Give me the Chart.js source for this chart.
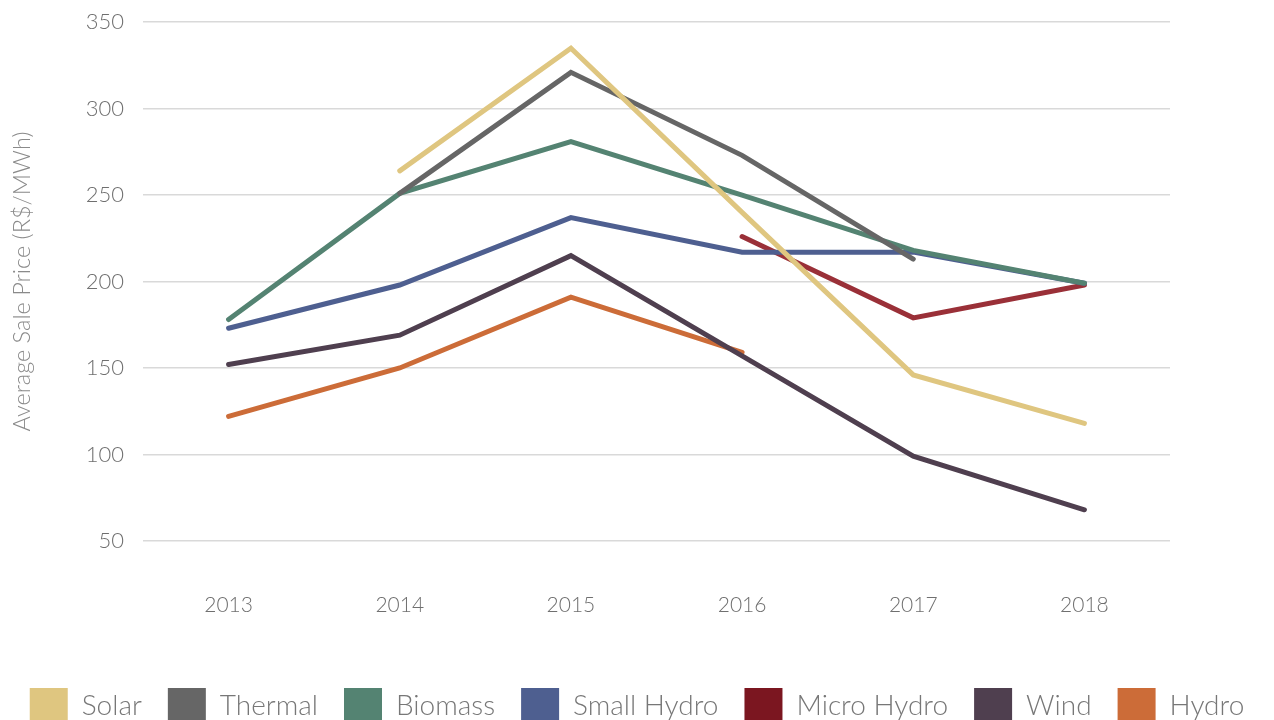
<!DOCTYPE html>
<html>
<head>
<meta charset="utf-8">
<script src="https://cdn.jsdelivr.net/npm/chart.js@4"></script>
<style>
  html, body { margin: 0; padding: 0; background: #fff; overflow: hidden; }
  #wrap { width: 1274px; height: 733px; }
</style>
</head>
<body>
<div id="wrap"><canvas id="priceChart"></canvas></div>
<script>
// years on the x axis
const years = ["2013", "2014", "2015", "2016", "2017", "2018"];

// average sale price per source (R$/MWh), null = no auction that year
const solar = [null, 264, 335, 240, 146, 118];
const thermal = [null, 251, 321, 273, 213, null];
const biomass = [178, 251, 281, 250, 218, 199];
const smallHydro = [173, 198, 237, 217, 217, 199];
const microHydro = [null, null, null, 226, 179, 198];
const wind = [152, 169, 215, 157, 99, 68];
const hydro = [122, 150, 191, 159, null, null];

const yTicks = [50, 100, 150, 200, 250, 300, 350];

function series(label, data, color, legendColor) {
  return {
    label: label,
    data: data,
    borderColor: color,
    backgroundColor: legendColor || color,
    borderWidth: 5,
    borderCapStyle: "round",
    borderJoinStyle: "miter",
    pointRadius: 0,
    tension: 0,
    fill: false,
    spanGaps: false,
  };
}

const ctx = document.getElementById("priceChart").getContext("2d");
const priceChart = new Chart(ctx, {
  type: "line",
  data: {
    labels: years,
    datasets: [
      series("Solar", solar, "#DFC680"),
      series("Thermal", thermal, "#666666"),
      series("Biomass", biomass, "#548372"),
      series("Small Hydro", smallHydro, "#4E5F90"),
      series("Micro Hydro", microHydro, "#9A3038", "#7B1620"),
      series("Wind", wind, "#4F3F4F"),
      series("Hydro", hydro, "#CC6C38"),
    ],
  },
  options: {
    responsive: true,
    maintainAspectRatio: false,
    animation: false,
    layout: { padding: { top: 12, right: 0, left: 0, bottom: 0 } },
    scales: {
      x: {
        offset: true,
        grid: { display: false },
        border: { display: false },
        ticks: {
          color: "#6F6F6F",
          font: { family: "Lato", size: 21, weight: 300, lineHeight: 1.1 },
          padding: 45,
        },
      },
      y: {
        min: 50,
        max: 350,
        afterBuildTicks: (scale) => {
          scale.ticks = yTicks.map((v) => ({ value: v }));
        },
        afterFit: (scale) => {
          scale.width = 143;
        },
        grid: {
          color: "#D9D9D9",
          lineWidth: 1.5,
          drawTicks: true,
          tickLength: 10,
          tickColor: "rgba(0,0,0,0)",
        },
        border: { display: false },
        ticks: {
          color: "#6F6F6F",
          font: { family: "Lato", size: 22, weight: 300 },
          padding: 9,
        },
        title: {
          display: true,
          text: "Average Sale Price (R$/MWh)",
          color: "#8A8A8A",
          font: { family: "Lato", size: 23.5, weight: 300 },
          padding: { top: 8, bottom: 0 },
        },
      },
      // empty axis only to keep the right margin free of the legend width
      yRight: {
        position: "right",
        min: 50,
        max: 350,
        grid: { display: false },
        border: { display: false },
        ticks: { display: false },
        afterFit: (scale) => {
          scale.width = 104;
        },
      },
    },
    plugins: {
      legend: {
        position: "bottom",
        labels: {
          boxWidth: 38,
          boxHeight: 35,
          padding: 26,
          color: "#777777",
          font: { family: "Lato", size: 28, weight: 300 },
          // solid swatches, no outline
          generateLabels: (chart) =>
            Chart.defaults.plugins.legend.labels
              .generateLabels(chart)
              .map((item) => Object.assign(item, { lineWidth: 0 })),
        },
      },
      tooltip: { enabled: false },
    },
  },
});
</script>
</body>
</html>
